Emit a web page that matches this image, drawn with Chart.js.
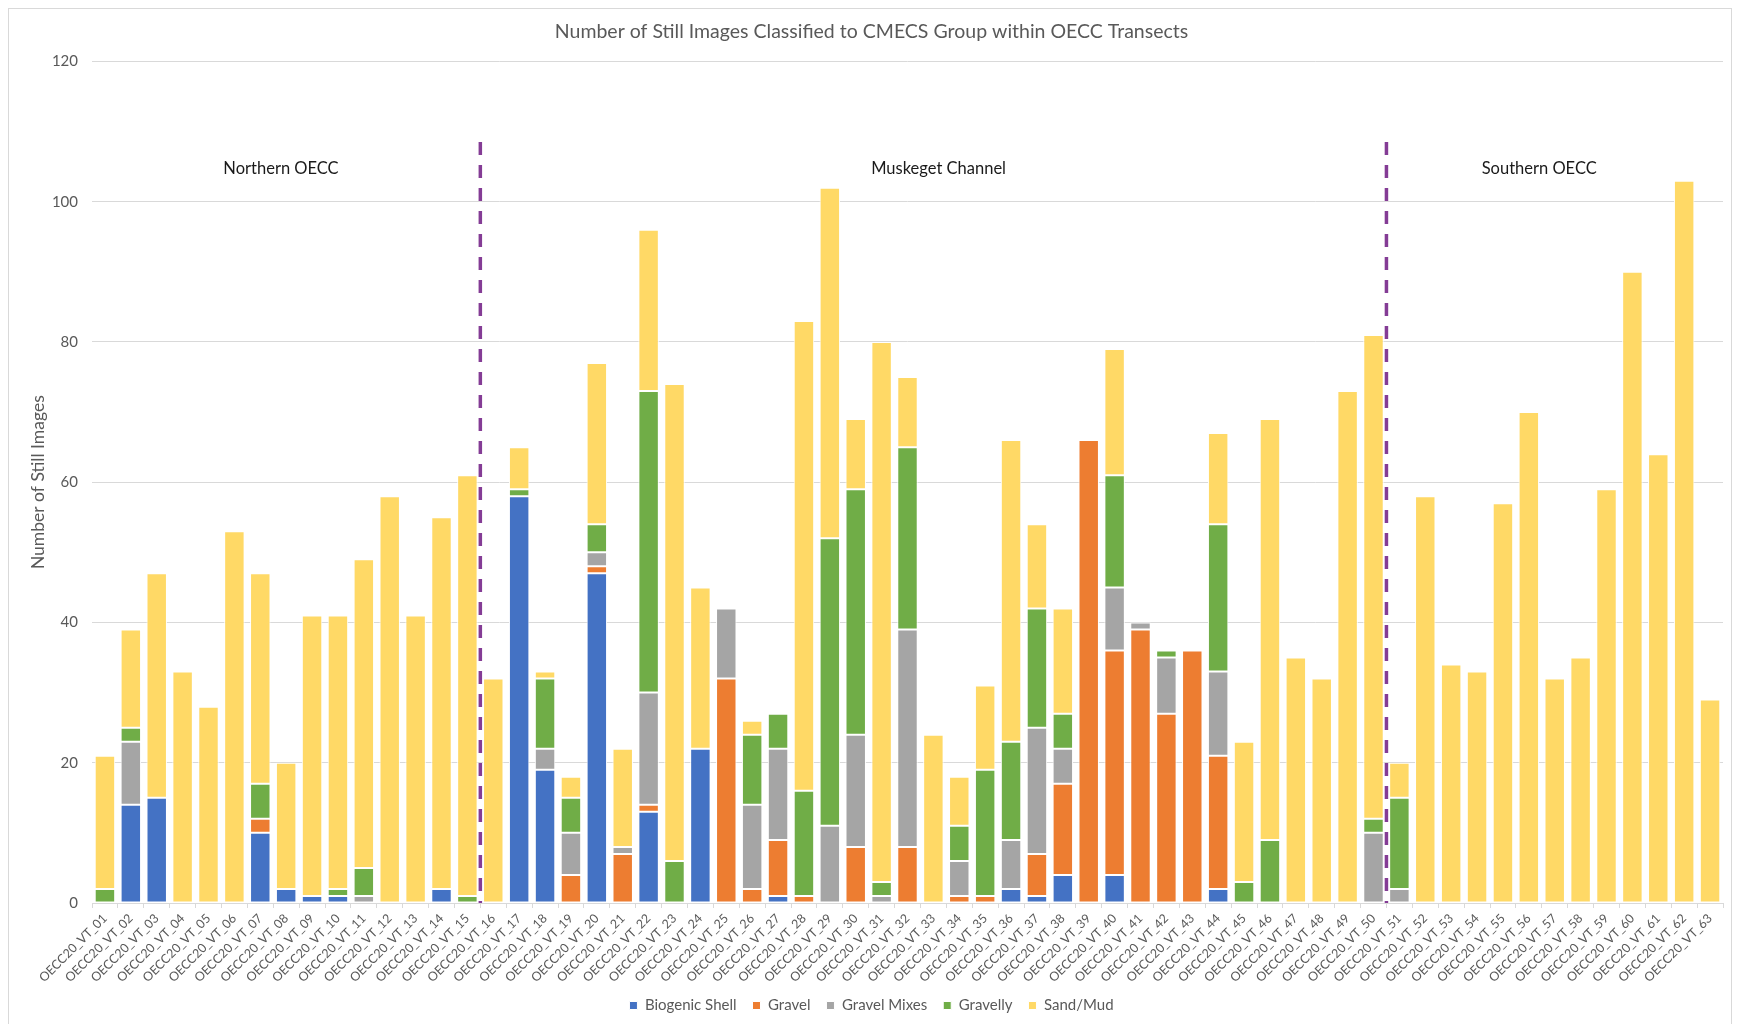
<!DOCTYPE html>
<html>
<head>
<meta charset="utf-8">
<title>Still Images by CMECS Group</title>
<script src="https://cdn.jsdelivr.net/npm/chart.js@4.4.1/dist/chart.umd.min.js"></script>
<style>
  html, body { margin: 0; padding: 0; background: #fff; overflow: hidden; }
  #wrap { position: relative; width: 1737px; height: 1024px; }
</style>
</head>
<body>
<div id="wrap"><canvas id="stillChart"></canvas></div>
<script>
const transects = [
  'OECC20_VT_01', 'OECC20_VT_02', 'OECC20_VT_03', 'OECC20_VT_04', 'OECC20_VT_05',
  'OECC20_VT_06', 'OECC20_VT_07', 'OECC20_VT_08', 'OECC20_VT_09', 'OECC20_VT_10',
  'OECC20_VT_11', 'OECC20_VT_12', 'OECC20_VT_13', 'OECC20_VT_14', 'OECC20_VT_15',
  'OECC20_VT_16', 'OECC20_VT_17', 'OECC20_VT_18', 'OECC20_VT_19', 'OECC20_VT_20',
  'OECC20_VT_21', 'OECC20_VT_22', 'OECC20_VT_23', 'OECC20_VT_24', 'OECC20_VT_25',
  'OECC20_VT_26', 'OECC20_VT_27', 'OECC20_VT_28', 'OECC20_VT_29', 'OECC20_VT_30',
  'OECC20_VT_31', 'OECC20_VT_32', 'OECC20_VT_33', 'OECC20_VT_34', 'OECC20_VT_35',
  'OECC20_VT_36', 'OECC20_VT_37', 'OECC20_VT_38', 'OECC20_VT_39', 'OECC20_VT_40',
  'OECC20_VT_41', 'OECC20_VT_42', 'OECC20_VT_43', 'OECC20_VT_44', 'OECC20_VT_45',
  'OECC20_VT_46', 'OECC20_VT_47', 'OECC20_VT_48', 'OECC20_VT_49', 'OECC20_VT_50',
  'OECC20_VT_51', 'OECC20_VT_52', 'OECC20_VT_53', 'OECC20_VT_54', 'OECC20_VT_55',
  'OECC20_VT_56', 'OECC20_VT_57', 'OECC20_VT_58', 'OECC20_VT_59', 'OECC20_VT_60',
  'OECC20_VT_61', 'OECC20_VT_62', 'OECC20_VT_63'
];

// image counts per CMECS group (10 transects per row)
const biogenicShell = [
  0, 14, 15, 0, 0, 0, 10, 2, 1, 1,
  0, 0, 0, 2, 0, 0, 58, 19, 0, 47,
  0, 13, 0, 22, 0, 0, 1, 0, 0, 0,
  0, 0, 0, 0, 0, 2, 1, 4, 0, 4,
  0, 0, 0, 2, 0, 0, 0, 0, 0, 0,
  0, 0, 0, 0, 0, 0, 0, 0, 0, 0,
  0, 0, 0
];
const gravel = [
  0, 0, 0, 0, 0, 0, 2, 0, 0, 0,
  0, 0, 0, 0, 0, 0, 0, 0, 4, 1,
  7, 1, 0, 0, 32, 2, 8, 1, 0, 8,
  0, 8, 0, 1, 1, 0, 6, 13, 66, 32,
  39, 27, 36, 19, 0, 0, 0, 0, 0, 0,
  0, 0, 0, 0, 0, 0, 0, 0, 0, 0,
  0, 0, 0
];
const gravelMixes = [
  0, 9, 0, 0, 0, 0, 0, 0, 0, 0,
  1, 0, 0, 0, 0, 0, 0, 3, 6, 2,
  1, 16, 0, 0, 10, 12, 13, 0, 11, 16,
  1, 31, 0, 5, 0, 7, 18, 5, 0, 9,
  1, 8, 0, 12, 0, 0, 0, 0, 0, 10,
  2, 0, 0, 0, 0, 0, 0, 0, 0, 0,
  0, 0, 0
];
const gravelly = [
  2, 2, 0, 0, 0, 0, 5, 0, 0, 1,
  4, 0, 0, 0, 1, 0, 1, 10, 5, 4,
  0, 43, 6, 0, 0, 10, 5, 15, 41, 35,
  2, 26, 0, 5, 18, 14, 17, 5, 0, 16,
  0, 1, 0, 21, 3, 9, 0, 0, 0, 2,
  13, 0, 0, 0, 0, 0, 0, 0, 0, 0,
  0, 0, 0
];
const sandMud = [
  19, 14, 32, 33, 28, 53, 30, 18, 40, 39,
  44, 58, 41, 53, 60, 32, 6, 1, 3, 23,
  14, 23, 68, 23, 0, 2, 0, 67, 50, 10,
  77, 10, 24, 7, 12, 43, 12, 15, 0, 18,
  0, 0, 0, 13, 20, 60, 35, 32, 73, 69,
  5, 58, 34, 33, 57, 70, 32, 35, 59, 90,
  64, 103, 29
];

const yTicks = [0, 20, 40, 60, 80, 100, 120];

// regions along the cable corridor: first transect index of each, and where its name sits
const regionNames = ['Northern OECC', 'Muskeget Channel', 'Southern OECC'];
const regionFirst = [0, 15, 50];
const regionLabelAt = [6.8, 32.2, 55.4];

const textGray = '#595959';
const gridGray = '#D9D9D9';
const fontFamily = 'Lato, "Open Sans", sans-serif';

// dashed dividers + region names
const regionPlugin = {
  id: 'regionMarks',
  beforeDraw(chart) {
    const ctx = chart.ctx;
    ctx.save();
    ctx.strokeStyle = gridGray;
    ctx.lineWidth = 1;
    ctx.strokeRect(8.5, 8.5, chart.width - 14, chart.height + 20);
    ctx.restore();
  },
  afterDatasetsDraw(chart) {
    const { ctx, scales: { x, y } } = chart;
    ctx.save();
    ctx.strokeStyle = '#843C95';
    ctx.lineWidth = 3.5;
    ctx.setLineDash([13, 10]);
    for (let r = 1; r < regionFirst.length; r++) {
      const px = (x.getPixelForValue(regionFirst[r] - 1) + x.getPixelForValue(regionFirst[r])) / 2;
      ctx.beginPath();
      ctx.moveTo(px, y.getPixelForValue(108.5));
      ctx.lineTo(px, y.getPixelForValue(0));
      ctx.stroke();
    }
    ctx.setLineDash([]);
    ctx.fillStyle = '#1a1a1a';
    ctx.font = '16.5px ' + fontFamily;
    ctx.textAlign = 'center';
    ctx.textBaseline = 'middle';
    regionNames.forEach((name, r) => {
      ctx.fillText(name, x.getPixelForValue(regionLabelAt[r]), y.getPixelForValue(104.7));
    });
    ctx.restore();
  }
};

const ctx = document.getElementById('stillChart').getContext('2d');

function seriesSet(label, values, color) {
  return {
    label: label,
    data: values,
    backgroundColor: color,
    borderColor: '#ffffff',
    borderWidth: 1,
    borderSkipped: false,
    barPercentage: 0.79,
    categoryPercentage: 1.0
  };
}

new Chart(ctx, {
  type: 'bar',
  data: {
    labels: transects,
    datasets: [
      seriesSet('Biogenic Shell', biogenicShell, '#4472C4'),
      seriesSet('Gravel', gravel, '#ED7D31'),
      seriesSet('Gravel Mixes', gravelMixes, '#A5A5A5'),
      seriesSet('Gravelly', gravelly, '#70AD47'),
      seriesSet('Sand/Mud', sandMud, '#FFD966')
    ]
  },
  options: {
    responsive: true,
    maintainAspectRatio: false,
    animation: false,
    layout: {
      padding: { top: 10, right: 14, bottom: 1, left: 20 }
    },
    scales: {
      x: {
        stacked: true,
        grid: {
          drawOnChartArea: false,
          drawTicks: true,
          tickLength: 5,
          color: gridGray
        },
        border: { color: gridGray },
        ticks: {
          autoSkip: false,
          minRotation: 45,
          maxRotation: 45,
          padding: 3,
          color: textGray,
          font: { family: fontFamily, size: 12.5 }
        },
        afterFit(scale) { scale.height = 79; }
      },
      y: {
        stacked: true,
        min: 0,
        max: 120,
        afterBuildTicks(scale) { scale.ticks = yTicks.map(v => ({ value: v })); },
        grid: { color: gridGray, drawTicks: false },
        border: { display: false },
        ticks: {
          padding: 14,
          color: textGray,
          font: { family: fontFamily, size: 15 }
        },
        title: {
          display: true,
          text: 'Number of Still Images',
          color: textGray,
          padding: { top: 8, bottom: 0 },
          font: { family: fontFamily, size: 17.5 }
        },
        afterFit(scale) { scale.width = 72; }
      }
    },
    plugins: {
      title: {
        display: true,
        text: 'Number of Still Images Classified to CMECS Group within OECC Transects',
        color: textGray,
        padding: { top: 10, bottom: 18 },
        font: { family: fontFamily, size: 19.5, weight: 'normal' }
      },
      legend: {
        position: 'bottom',
        labels: {
          boxWidth: 8,
          boxHeight: 8,
          padding: 16,
          color: textGray,
          font: { family: fontFamily, size: 15 }
        }
      },
      tooltip: { enabled: false }
    }
  },
  plugins: [regionPlugin]
});
</script>
</body>
</html>
